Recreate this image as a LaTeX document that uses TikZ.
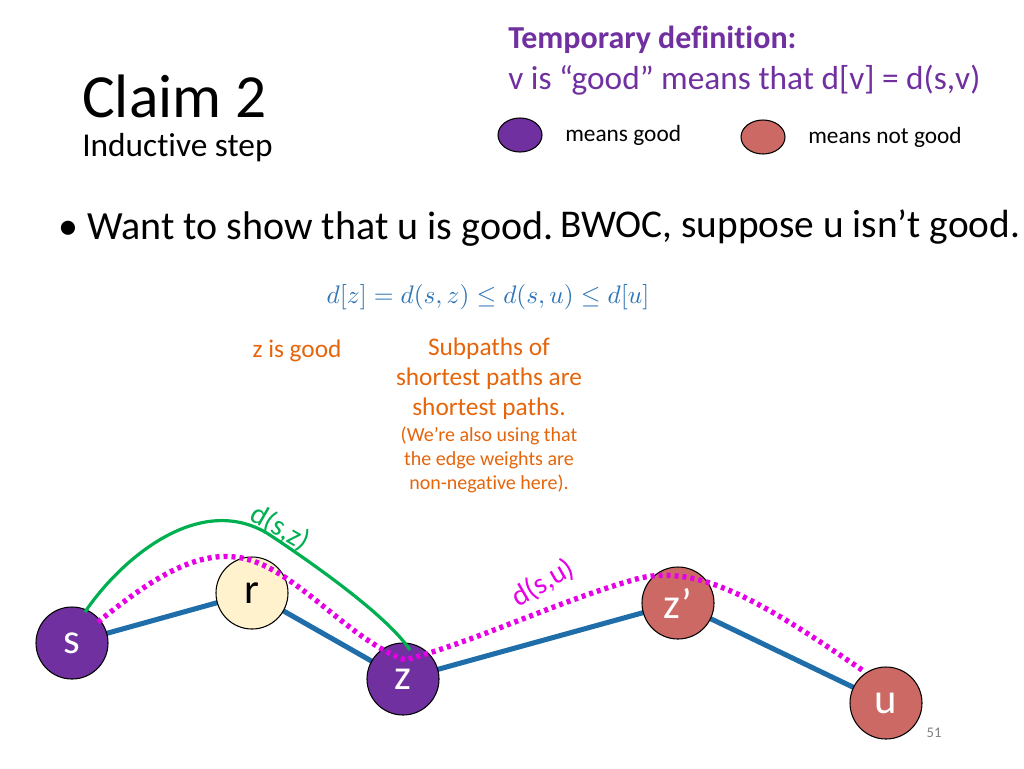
\documentclass[tikz,border=0pt]{standalone}
\usepackage{fontspec}
\setmainfont{Carlito}[RawFeature={-liga,-dlig,-clig}]
\usetikzlibrary{calc}
\definecolor{purp}{RGB}{112,48,160}
\definecolor{salm}{RGB}{205,105,100}
\definecolor{edgeb}{RGB}{31,110,170}
\definecolor{mathb}{RGB}{46,117,182}
\definecolor{orng}{RGB}{230,100,10}
\definecolor{grn}{RGB}{0,176,80}
\definecolor{mag}{RGB}{230,0,230}
\definecolor{cream}{RGB}{255,242,204}
\tikzset{
 vert/.style={circle,draw=black,line width=0.8pt,minimum size=54pt,inner sep=0pt,font=\fontsize{32}{34}\selectfont},
 good/.style={vert,fill=purp,text=white},
 bad/.style={vert,fill=salm,text=white},
 plain/.style={vert,fill=cream,text=black},
 wedge/.style={edgeb,line width=3.8pt},
 dotp/.style={mag,line width=4pt,dash pattern=on 3pt off 3pt},
 otext/.style={text=orng,align=center},
 every node/.style={inner sep=0pt}
}
\begin{document}
\begin{tikzpicture}[x=0.75pt,y=-0.75pt]
\useasboundingbox (0,0) rectangle (1024,768);
\node[anchor=west,font=\fontsize{46}{48}\selectfont] (title) at (82,96) {Claim 2};
\node[anchor=west,font=\fontsize{25}{28}\selectfont] (sub) at (82,148) {Inductive step};
\node[anchor=west,text=purp,font=\bfseries\fontsize{24}{26}\selectfont] (tmp) at (508,40) {Temporary definition:};
\node[anchor=west,text=purp,font=\fontsize{25}{27}\selectfont] (def) at (508,80) {v is “good” means that d[v] = d(s,v)};
\draw[fill=purp,line width=0.8pt] (520,135) ellipse (22 and 17) node (lg) {};
\node[anchor=west,font=\fontsize{17.5}{20}\selectfont] (lgt) at (565,135) {means good};
\draw[fill=salm,line width=0.8pt] (763,137) ellipse (22 and 17) node (lb) {};
\node[anchor=west,font=\fontsize{17.5}{20}\selectfont] (lbt) at (808,137) {means not good};
\node[anchor=west,font=\fontsize{30}{32}\selectfont] (b1) at (58,229) {• Want to show that u is good.};
\node[anchor=west,font=\fontsize{29.5}{32}\selectfont] (b2) at (560,227) {BWOC, suppose u isn’t good.};
\node[text=mathb] (eq) at (488,297) {\scalebox{1.9}{$d[z]=d(s,z)\leq d(s,u)\leq d[u]$}};
\node[otext,font=\fontsize{19}{21}\selectfont] (zg) at (297,351) {z is good};
\node[otext,font=\fontsize{19}{22.5}\selectfont,anchor=north] (sp) at (489,338) {Subpaths of\\shortest paths are\\shortest paths.};
\node[otext,font=\fontsize{15}{18}\selectfont,anchor=north] (sp2) at (489,427) {(We’re also using that\\the edge weights are\\non-negative here).};
\node[text=gray,font=\fontsize{11}{12}\selectfont] (pg) at (934,733) {51};
\coordinate (S) at (72,643); \coordinate (R) at (252,593); \coordinate (Z) at (403,679);
\coordinate (Z2) at (678,603); \coordinate (U) at (886,703);
\draw[wedge] (S)--(R)--(Z)--(Z2)--(U);
\node[good] (s) at (S) {s};
\node[plain] (r) at (R) {r};
\node[good] (z) at (Z) {z};
\node[bad] (z2) at (Z2) {z’};
\node[bad] (u) at (U) {u};
\draw[dotp] (98,622) .. controls (150,580) and (200,545) .. (250,560) .. controls (300,575) and (350,640) .. (405,660)
 .. controls (480,640) and (560,600) .. (640,578) .. controls (700,565) and (760,600) .. (865,672);
\draw[grn,line width=2.4pt] (85,612) .. controls (120,560) and (200,490) .. (270,535) .. controls (330,575) and (390,620) .. (410,650);
\node[text=grn,rotate=-30,font=\fontsize{22}{24}\selectfont] (dsz) at (280,528) {d(s,z)};
\node[text=mag,rotate=30,font=\fontsize{22}{24}\selectfont] (dsu) at (543,583) {d(s,u)};
\end{tikzpicture}
\end{document}
